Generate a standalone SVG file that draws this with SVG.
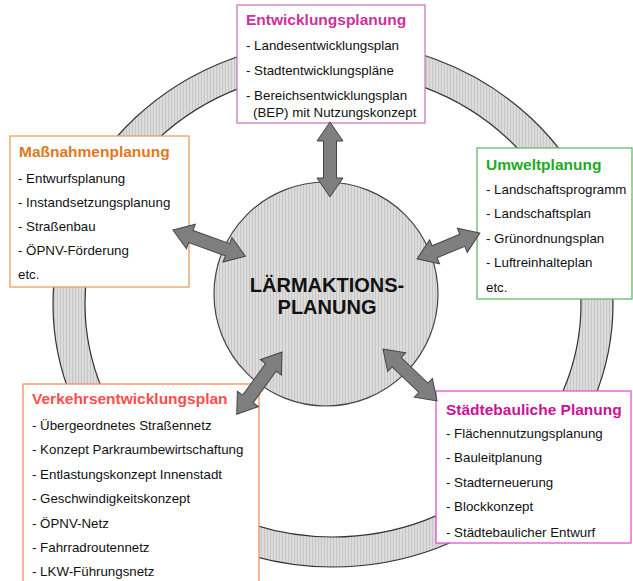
<svg xmlns="http://www.w3.org/2000/svg" width="633" height="581" viewBox="0 0 633 581">
<defs>
<pattern id="st" width="3" height="10" patternUnits="userSpaceOnUse"><rect width="3" height="10" fill="#dcdcdc"/><rect width="1" height="10" fill="#c6c6c6"/></pattern>
<style>
.box{fill:#fff;stroke-width:1.3}
.t{font-family:"Liberation Sans",Arial,sans-serif;font-weight:bold;font-size:15.5px}
.i{font-family:"Liberation Sans",Arial,sans-serif;font-size:13.3px;fill:#111}
.c{font-family:"Liberation Sans",Arial,sans-serif;font-weight:bold;font-size:20px;fill:#111;text-anchor:middle}
.ar{fill:#7f7f7f;stroke:#444;stroke-width:1;stroke-linejoin:miter}
</style>
</defs>
<rect width="633" height="581" fill="#fff"/>
<g id="ring">
<path d="M53,304 a280,263 0 1,0 560,0 a280,263 0 1,0 -560,0 Z M85,304 a248,233 0 1,0 496,0 a248,233 0 1,0 -496,0 Z" fill="url(#st)" fill-rule="evenodd" stroke="#333" stroke-width="1.2"/>
</g>
<g id="center">
<circle cx="326" cy="294" r="112" fill="url(#st)" stroke="#444" stroke-width="1.2"/>
<text class="c" x="327" y="292">LÄRMAKTIONS-</text>
<text class="c" x="327" y="314">PLANUNG</text>
</g>
<g id="entwicklungsplanung">
<rect class="box" x="237" y="5" width="188" height="118" stroke="#cc77bb"/>
<text class="t" x="246" y="25" fill="#cc3399">Entwicklungsplanung</text>
<text class="i" x="246" y="50">- Landesentwicklungsplan</text>
<text class="i" x="246" y="75">- Stadtentwicklungspläne</text>
<text class="i" x="246" y="100">- Bereichsentwicklungsplan</text>
<text class="i" x="253" y="117">(BEP) mit Nutzungskonzept</text>
</g>
<g id="massnahmenplanung">
<rect class="box" x="10" y="136" width="179" height="151" stroke="#e8a060"/>
<text class="t" x="19" y="157" fill="#e07820">Maßnahmenplanung</text>
<text class="i" x="18" y="183">- Entwurfsplanung</text>
<text class="i" x="18" y="207">- Instandsetzungsplanung</text>
<text class="i" x="18" y="231">- Straßenbau</text>
<text class="i" x="18" y="255">- ÖPNV-Förderung</text>
<text class="i" x="18" y="279">etc.</text>
</g>
<g id="umweltplanung">
<rect class="box" x="477" y="148" width="155" height="151" stroke="#66bb66"/>
<text class="t" x="486" y="170" fill="#22aa22">Umweltplanung</text>
<text class="i" x="486" y="194">- Landschaftsprogramm</text>
<text class="i" x="486" y="218">- Landschaftsplan</text>
<text class="i" x="486" y="243">- Grünordnungsplan</text>
<text class="i" x="486" y="267">- Luftreinhalteplan</text>
<text class="i" x="486" y="292">etc.</text>
</g>
<g id="verkehrsentwicklungsplan">
<rect class="box" x="23" y="384" width="236" height="210" stroke="#f0905a"/>
<text class="t" x="32" y="404" fill="#ff4d4d">Verkehrsentwicklungsplan</text>
<text class="i" x="32" y="430">- Übergeordnetes Straßennetz</text>
<text class="i" x="32" y="454">- Konzept Parkraumbewirtschaftung</text>
<text class="i" x="32" y="479">- Entlastungskonzept Innenstadt</text>
<text class="i" x="32" y="503">- Geschwindigkeitskonzept</text>
<text class="i" x="32" y="528">- ÖPNV-Netz</text>
<text class="i" x="32" y="552">- Fahrradroutennetz</text>
<text class="i" x="32" y="576">- LKW-Führungsnetz</text>
</g>
<g id="staedtebauliche-planung">
<rect class="box" x="436" y="391" width="195" height="152" stroke="#dd55cc"/>
<text class="t" x="446" y="415" fill="#cc1199">Städtebauliche Planung</text>
<text class="i" x="446" y="438">- Flächennutzungsplanung</text>
<text class="i" x="446" y="462">- Bauleitplanung</text>
<text class="i" x="446" y="487">- Stadterneuerung</text>
<text class="i" x="446" y="511">- Blockkonzept</text>
<text class="i" x="446" y="537">- Städtebaulicher Entwurf</text>
</g>
<g id="connectors">
<path class="ar" transform="translate(330,122) rotate(90)" d="M0,0 L19,-13 L19,-6.5 L56,-6.5 L56,-13 L75,0 L56,13 L56,6.5 L19,6.5 L19,13 Z"/>
<path class="ar" transform="translate(173,230) rotate(19.9)" d="M0,0 L19,-13 L19,-6.5 L58,-6.5 L58,-13 L77,0 L58,13 L58,6.5 L19,6.5 L19,13 Z"/>
<path class="ar" transform="translate(417,259) rotate(-22.4)" d="M0,0 L19,-13 L19,-6.5 L49,-6.5 L49,-13 L68,0 L49,13 L49,6.5 L19,6.5 L19,13 Z"/>
<path class="ar" transform="translate(282,352) rotate(126)" d="M0,0 L19,-13 L19,-6.5 L58,-6.5 L58,-13 L77,0 L58,13 L58,6.5 L19,6.5 L19,13 Z"/>
<path class="ar" transform="translate(383,349) rotate(43.9)" d="M0,0 L19,-13 L19,-6.5 L56,-6.5 L56,-13 L75,0 L56,13 L56,6.5 L19,6.5 L19,13 Z"/>
</g>
</svg>
